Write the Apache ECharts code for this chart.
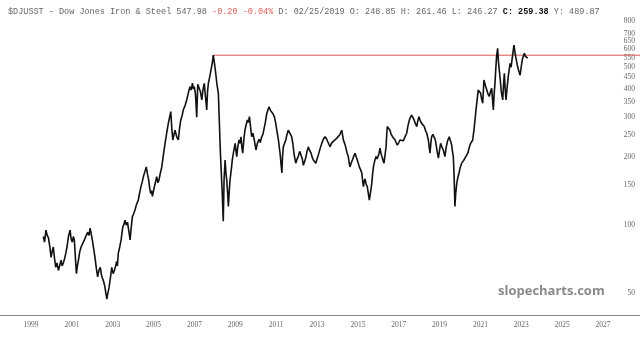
<!DOCTYPE html>
<html>
<head>
<meta charset="utf-8">
<script src="https://cdn.jsdelivr.net/npm/echarts@6/dist/echarts.min.js"></script>
<style>
html, body { margin: 0; padding: 0; background: #fff; }
#main { width: 640px; height: 339px; }
</style>
</head>
<body>
<div id="main"></div>
<script>
// decimal years, values in index points
var years = [
	1999.60, 1999.66, 1999.73, 1999.79, 1999.85, 1999.92, 1999.98, 2000.04, 2000.09, 2000.15,
	2000.21, 2000.27, 2000.34, 2000.40, 2000.47, 2000.52, 2000.58, 2000.64, 2000.70, 2000.76,
	2000.83, 2000.91, 2000.96, 2001.02, 2001.07, 2001.12, 2001.17, 2001.22, 2001.27, 2001.32,
	2001.38, 2001.45, 2001.53, 2001.61, 2001.70, 2001.78, 2001.84, 2001.89, 2001.94, 2002.00,
	2002.06, 2002.13, 2002.20, 2002.26, 2002.32, 2002.39, 2002.45, 2002.51, 2002.56, 2002.62,
	2002.66, 2002.71, 2002.76, 2002.82, 2002.88, 2002.95, 2003.02, 2003.08, 2003.14, 2003.19,
	2003.23, 2003.27, 2003.34, 2003.41, 2003.45, 2003.49, 2003.55, 2003.60, 2003.66, 2003.72,
	2003.78, 2003.85, 2003.90, 2003.96, 2004.02, 2004.09, 2004.17, 2004.25, 2004.31, 2004.38,
	2004.44, 2004.50, 2004.57, 2004.64, 2004.70, 2004.76, 2004.81, 2004.86, 2004.90, 2004.94,
	2004.99, 2005.04, 2005.10, 2005.15, 2005.21, 2005.26, 2005.33, 2005.40, 2005.48, 2005.56,
	2005.64, 2005.72, 2005.78, 2005.84, 2005.89, 2005.94, 2006.00, 2006.05, 2006.13, 2006.21,
	2006.27, 2006.33, 2006.39, 2006.45, 2006.54, 2006.62, 2006.70, 2006.78, 2006.84, 2006.90,
	2006.95, 2006.99, 2007.05, 2007.11, 2007.16, 2007.22, 2007.29, 2007.36, 2007.42, 2007.48,
	2007.54, 2007.60, 2007.64, 2007.68, 2007.75, 2007.81, 2007.87, 2007.92, 2007.98, 2008.04,
	2008.10, 2008.17, 2008.22, 2008.26, 2008.30, 2008.36, 2008.41, 2008.45, 2008.50, 2008.54,
	2008.58, 2008.62, 2008.66, 2008.70, 2008.74, 2008.80, 2008.85, 2008.92, 2008.99, 2009.03,
	2009.07, 2009.12, 2009.18, 2009.23, 2009.28, 2009.32, 2009.36, 2009.42, 2009.47, 2009.53,
	2009.59, 2009.64, 2009.69, 2009.75, 2009.80, 2009.86, 2009.93, 2010.01, 2010.08, 2010.16,
	2010.22, 2010.29, 2010.35, 2010.40, 2010.47, 2010.54, 2010.60, 2010.65, 2010.72, 2010.78,
	2010.85, 2010.91, 2010.97, 2011.03, 2011.07, 2011.11, 2011.15, 2011.19, 2011.24, 2011.28,
	2011.31, 2011.35, 2011.41, 2011.47, 2011.53, 2011.59, 2011.67, 2011.76, 2011.82, 2011.87,
	2011.91, 2011.96, 2012.02, 2012.08, 2012.15, 2012.22, 2012.28, 2012.33, 2012.40, 2012.46,
	2012.51, 2012.57, 2012.64, 2012.71, 2012.76, 2012.82, 2012.88, 2012.94, 2013.00, 2013.06,
	2013.15, 2013.23, 2013.31, 2013.39, 2013.46, 2013.52, 2013.58, 2013.64, 2013.70, 2013.75,
	2013.82, 2013.88, 2013.96, 2014.04, 2014.12, 2014.21, 2014.25, 2014.29, 2014.35, 2014.40,
	2014.46, 2014.53, 2014.57, 2014.61, 2014.67, 2014.73, 2014.80, 2014.86, 2014.92, 2014.97,
	2015.02, 2015.07, 2015.13, 2015.19, 2015.23, 2015.27, 2015.31, 2015.35, 2015.40, 2015.46,
	2015.51, 2015.56, 2015.62, 2015.68, 2015.72, 2015.76, 2015.82, 2015.89, 2015.94, 2015.99,
	2016.04, 2016.08, 2016.14, 2016.20, 2016.24, 2016.28, 2016.33, 2016.38, 2016.41, 2016.44,
	2016.50, 2016.57, 2016.63, 2016.70, 2016.76, 2016.82, 2016.87, 2016.93, 2017.00, 2017.06,
	2017.14, 2017.22, 2017.30, 2017.39, 2017.45, 2017.52, 2017.57, 2017.63, 2017.69, 2017.75,
	2017.81, 2017.88, 2017.93, 2017.99, 2018.05, 2018.12, 2018.18, 2018.25, 2018.31, 2018.37,
	2018.41, 2018.45, 2018.49, 2018.53, 2018.57, 2018.61, 2018.67, 2018.73, 2018.78, 2018.82,
	2018.88, 2018.94, 2019.00, 2019.05, 2019.11, 2019.18, 2019.22, 2019.26, 2019.32, 2019.38,
	2019.42, 2019.47, 2019.53, 2019.59, 2019.63, 2019.67, 2019.70, 2019.72, 2019.75, 2019.79,
	2019.84, 2019.89, 2019.95, 2020.01, 2020.08, 2020.13, 2020.19, 2020.24, 2020.29, 2020.35,
	2020.40, 2020.46, 2020.52, 2020.57, 2020.62, 2020.68, 2020.73, 2020.78, 2020.84, 2020.89,
	2020.95, 2021.01, 2021.06, 2021.11, 2021.17, 2021.24, 2021.31, 2021.37, 2021.43, 2021.49,
	2021.55, 2021.59, 2021.63, 2021.67, 2021.71, 2021.75, 2021.79, 2021.84, 2021.88, 2021.92,
	2021.97, 2022.01, 2022.05, 2022.09, 2022.13, 2022.17, 2022.21, 2022.25, 2022.31, 2022.36,
	2022.41, 2022.45, 2022.50, 2022.54, 2022.59, 2022.64, 2022.68, 2022.72, 2022.77, 2022.82,
	2022.88, 2022.94, 2023.00, 2023.05, 2023.10, 2023.15, 2023.19, 2023.23, 2023.27, 2023.31
];
var prices = [
	89, 84, 95, 90, 88, 80, 72, 77, 80, 71,
	65, 68, 63, 66, 70, 66, 68, 71, 75, 80,
	89, 95, 87, 84, 89, 86, 72, 61, 66, 70,
	76, 80, 83, 86, 90, 93, 90, 97, 92, 86,
	79, 72, 64, 59, 63, 65, 60, 61, 56, 53,
	50, 47, 50, 53, 58, 65, 61, 63, 66, 69,
	66, 75, 80, 86, 92, 98, 101, 105, 100, 103,
	95, 86, 97, 109, 112, 117, 124, 129, 138, 148,
	155, 164, 172, 181, 168, 158, 145, 138, 142, 134,
	141, 148, 156, 164, 154, 158, 170, 181, 205, 230,
	255, 282, 300, 318, 268, 238, 252, 263, 246, 238,
	268, 292, 304, 323, 338, 358, 385, 410, 396, 425,
	400, 410, 380, 300, 420, 424, 390, 358, 400, 424,
	370, 323, 390, 424, 455, 486, 520, 565, 520, 470,
	420, 383, 282, 220, 181, 138, 104, 160, 194, 170,
	158, 140, 121, 140, 158, 175, 194, 212, 230, 214,
	201, 222, 238, 230, 246, 222, 208, 240, 263, 278,
	292, 285, 302, 270, 246, 255, 238, 215, 230, 240,
	232, 246, 252, 255, 285, 312, 325, 334, 322, 318,
	310, 302, 285, 263, 250, 238, 222, 208, 185, 170,
	200, 222, 230, 238, 252, 263, 255, 246, 228, 208,
	198, 188, 196, 201, 212, 208, 196, 184, 192, 201,
	212, 222, 214, 208, 200, 194, 192, 188, 196, 204,
	218, 230, 240, 246, 241, 238, 228, 222, 230, 234,
	236, 238, 242, 240, 252, 263, 250, 238, 230, 222,
	210, 201, 190, 181, 188, 194, 202, 208, 200, 194,
	188, 181, 176, 170, 158, 148, 156, 160, 152, 148,
	138, 129, 140, 153, 168, 181, 192, 201, 196, 195,
	208, 219, 206, 198, 192, 188, 205, 222, 250, 273,
	268, 263, 252, 246, 242, 238, 232, 226, 232, 238,
	236, 236, 245, 255, 275, 292, 300, 307, 300, 292,
	282, 273, 288, 302, 290, 282, 278, 273, 262, 255,
	246, 238, 222, 208, 230, 246, 252, 255, 240, 230,
	212, 198, 215, 230, 222, 215, 208, 201, 220, 234,
	240, 246, 236, 226, 212, 201, 175, 153, 121, 138,
	153, 162, 170, 180, 188, 191, 194, 198, 201, 206,
	211, 222, 230, 234, 238, 263, 290, 323, 360, 396,
	390, 383, 360, 346, 439, 415, 396, 380, 371, 390,
	403, 360, 323, 380, 424, 490, 558, 606, 530, 486,
	440, 396, 375, 358, 420, 470, 400, 358, 410, 455,
	490, 520, 500, 510, 580, 626, 590, 558, 530, 502,
	480, 461, 505, 540, 560, 576, 560, 558, 565, 548
];
var yearTicks = [1999, 2001, 2003, 2005, 2007, 2009, 2011, 2013, 2015, 2017, 2019, 2021, 2023, 2025, 2027];
var priceTicks = [50, 100, 150, 200, 250, 300, 350, 400, 450, 500, 550, 600, 650, 700, 750, 800];
var resistance = 565;
var resistanceStart = 2007.92;

var xMin = 1997.48, xMax = 2028.81;

var seriesData = [];
for (var i = 0; i < years.length; i++) {
	seriesData.push([years[i], prices[i]]);
}

var myChart = echarts.init(document.getElementById('main'));
var option = {
	backgroundColor: '#fff',
	animation: false,
	title: {
		left: 3,
		top: 2,
		text: '$DJUSST - Dow Jones Iron & Steel 547.98 {red|-0.20 -0.04%} D: 02/25/2019 O: 248.85 H: 261.46 L: 246.27 {b|C: 259.38} Y: 489.87',
		textStyle: {
			fontFamily: 'Liberation Mono',
			fontSize: 8.5,
			fontWeight: 'normal',
			color: '#666',
			rich: {
				red: { fontFamily: 'Liberation Mono', fontSize: 8.5, color: '#e0605a' },
				b: { fontFamily: 'Liberation Mono', fontSize: 8.5, color: '#111', fontWeight: 'bold' }
			}
		}
	},
	grid: {
		left: 0,
		right: 0,
		top: 9.5,
		bottom: 24
	},
	xAxis: {
		type: 'value',
		min: xMin,
		max: xMax,
		splitLine: { show: false },
		axisTick: { show: false },
		axisLine: { show: true, lineStyle: { color: '#888', width: 1 } },
		axisLabel: {
			customValues: yearTicks,
			fontFamily: 'Liberation Serif',
			fontSize: 7.5,
			color: '#666',
			margin: 6,
			formatter: function(v) {
				return String(Math.round(v));
			}
		}
	},
	yAxis: {
		type: 'log',
		position: 'right',
		min: 40,
		max: 900,
		splitLine: { show: false },
		axisTick: { show: false },
		axisLine: { show: false },
		axisLabel: {
			customValues: priceTicks,
			inside: true,
			hideOverlap: false,
			showMinLabel: true,
			showMaxLabel: true,
			fontFamily: 'Liberation Serif',
			fontSize: 7.5,
			color: '#666',
			margin: 5
		}
	},
	graphic: [{
		type: 'text',
		left: 498,
		top: 285,
		style: {
			text: 'slopecharts.com',
			font: 'bold 13px "Open Sans", sans-serif',
			fill: '#8a8a8a'
		}
	}],
	series: [
		{
			type: 'line',
			data: seriesData,
			showSymbol: false,
			lineStyle: { color: '#111', width: 1.6 },
			z: 3
		},
		{
			type: 'line',
			data: [[resistanceStart, resistance], [xMax, resistance]],
			showSymbol: false,
			lineStyle: { color: '#d9534f', width: 1 },
			z: 2
		}
	]
};
myChart.setOption(option);
</script>
</body>
</html>
